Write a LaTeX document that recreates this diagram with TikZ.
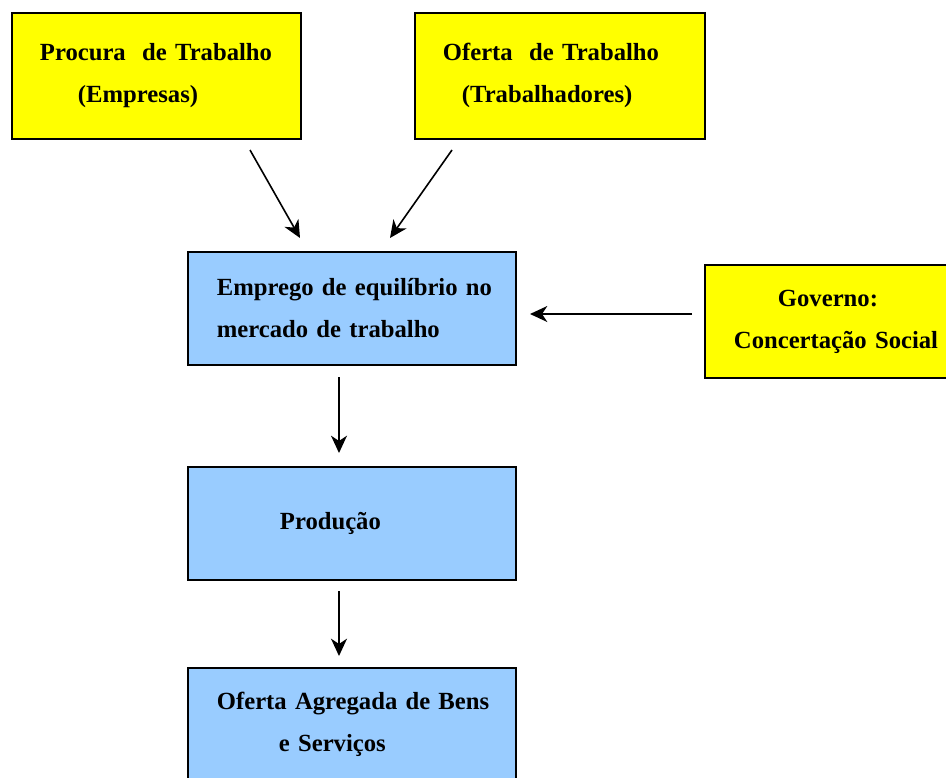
\documentclass[tikz,border=0pt]{standalone}
\usepackage{fontspec}
\setmainfont{Liberation Serif}
\usetikzlibrary{arrows.meta}
\definecolor{boxyellow}{RGB}{255,255,0}
\definecolor{boxblue}{RGB}{153,204,255}

\begin{document}
\begin{tikzpicture}[x=0.75pt, y=-0.75pt,
    box/.style={draw=black, line width=1.4pt, inner sep=0pt, align=left, anchor=north west,
      font=\fontsize{18.5}{31.5}\selectfont\bfseries},
    ybox/.style={box, fill=boxyellow},
    bbox/.style={box, fill=boxblue},
    arr/.style={-{Stealth[length=13pt, width=12pt, inset=4pt]}, line width=1.2pt}]

	\clip (0,0) rectangle (946,778);

	% Labour market
	\node[ybox, text width=216.75pt, minimum height=94.5pt] (procura) at (11,12)
	  {\hspace*{21pt}Procura\ \ de Trabalho\\\hspace*{49.5pt}(Empresas)};
	\node[ybox, text width=217.5pt, minimum height=94.5pt] (oferta) at (414,12)
	  {\hspace*{21pt}Oferta\ \ de Trabalho\\\hspace*{35.25pt}(Trabalhadores)};

	% Equilibrium and government
	\node[bbox, text width=246pt, minimum height=84.75pt] (emprego) at (187,251)
	  {\hspace*{21.75pt}Emprego de equilíbrio no\\\hspace*{21.75pt}mercado de trabalho};
	\node[ybox, text width=207pt, minimum height=84.75pt] (governo) at (704,264)
	  {\hspace*{54.75pt}Governo:\\\hspace*{21.75pt}Concertação Social};

	% Production and aggregate supply
	\node[bbox, text width=246pt, minimum height=84.75pt] (producao) at (187,466)
	  {\hspace*{69pt}Produção};
	\node[bbox, text width=246pt, minimum height=84.75pt] (agregada) at (187,667)
	  {\hspace*{21.75pt}Oferta Agregada de Bens\\\hspace*{68.25pt}e Serviços};

	% Arrows
	\coordinate (p1) at (250,150); \coordinate (p2) at (300,238);
	\coordinate (o1) at (452,150); \coordinate (o2) at (390,238);
	\coordinate (g1) at (692,314); \coordinate (g2) at (530,314);
	\coordinate (e1) at (339,377); \coordinate (e2) at (339,453);
	\coordinate (d1) at (339,591); \coordinate (d2) at (339,656);
	\draw[arr] (p1) -- (p2);
	\draw[arr] (o1) -- (o2);
	\draw[arr] (g1) -- (g2);
	\draw[arr] (e1) -- (e2);
	\draw[arr] (d1) -- (d2);

\end{tikzpicture}
\end{document}
